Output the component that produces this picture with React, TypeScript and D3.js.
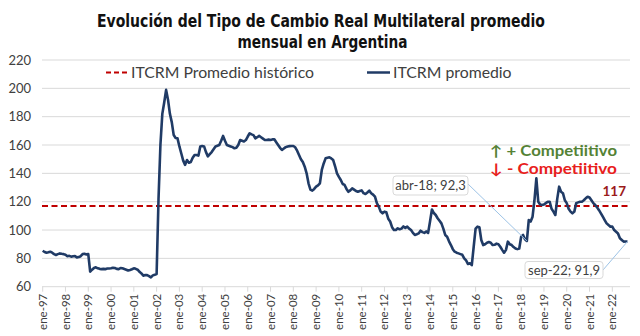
import React from "react";
import * as d3 from "d3";

// ITCRM monthly average values, Jan-1997 .. Sep-2022
const itcrmValues: number[] = [
  // 1997
  85.4, 84.5, 84, 84.3, 84.7, 84, 83, 82.4, 83, 83.5, 83.2, 83,
  // 1998
  82.5, 81.5, 81.8, 81.2, 81.5, 81.6, 80.7, 80.9, 81.5, 83, 83.2, 82.8,
  // 1999
  83, 70.6, 72, 73.2, 73.7, 73, 72.6, 72.4, 72.6, 72.4, 72.8, 72.9,
  // 2000
  73, 73.4, 73.2, 72.6, 72.4, 73.2, 73, 72.5, 72, 71.4, 71.8, 72.3,
  // 2001
  73, 72.6, 72, 70.5, 69.4, 67.8, 68.2, 68.2, 67.5, 66.6, 68, 68.5,
  // 2002
  69, 122, 160, 182, 190, 198.9, 192, 182, 176, 167, 165, 164.7,
  // 2003
  159, 154, 149, 146, 149.4, 147.5, 148, 151, 153, 153, 152.5, 159,
  // 2004
  159.3, 159, 155, 152, 153.5, 155, 157, 159, 159.5, 160, 163, 166.4,
  // 2005
  163, 160, 159.5, 159, 158.5, 157.7, 158, 160, 163.5, 163, 162.5, 163.5,
  // 2006
  166, 168.3, 167.5, 167, 164.7, 165.5, 166.4, 165.5, 164.5, 163.5, 163.5, 163.8,
  // 2007
  163.5, 164, 164, 162, 160, 158, 156.5, 157.5, 158.5, 159, 159.2, 159.3,
  // 2008
  159.3, 158.4, 156, 153, 150, 148, 144.7, 140, 133, 128.5, 127.8, 129,
  // 2009
  130.6, 131.5, 133, 142.4, 147, 150.6, 151, 151.3, 150.5, 149.4, 145, 140,
  // 2010
  137.5, 135.3, 132.5, 131.8, 129, 127, 128, 129.4, 128.5, 127.5, 127, 127.5,
  // 2011
  128, 126, 125.4, 126.5, 127.8, 126, 125, 123.5, 119, 116.5, 113, 111.8,
  // 2012
  113, 112.5, 108, 106, 102, 100, 100, 101.2, 100.5, 101, 102.5, 101.5,
  // 2013
  102.4, 101, 100, 98, 96.5, 97, 97.6, 99.5, 98.5, 98, 99, 98,
  // 2014
  106, 114.5, 112, 110.6, 108.3, 106.5, 104.7, 101, 96.5, 95.3, 92, 89.4,
  // 2015
  86.5, 84.7, 84, 83.5, 83, 82.5, 80, 78.5, 76, 76.5, 75.3, 88.2,
  // 2016
  101, 102.4, 102, 93, 89.4, 90, 91, 91.5, 91, 89.4, 89.6, 90.4,
  // 2017
  90, 88.2, 86, 84, 86, 91.8, 90, 89.4, 88, 87, 86.5, 87,
  // 2018
  95.3, 96.5, 93.5, 92.3, 107, 106, 109.4, 121, 136.5, 120, 118, 117.7,
  // 2019
  118, 119, 120, 120, 115, 113, 110.6, 122, 130.6, 127, 126, 121,
  // 2020
  119, 115, 113, 111.8, 113, 119, 119.5, 120, 120, 121, 122.4, 123.5,
  // 2021
  123, 121, 119, 117.7, 116, 114, 111.8, 109.4, 107, 104.7, 103.5, 102.4,
  // 2022
  102.4, 100, 98.8, 97.6, 94.2, 93, 91.8, 91.9, 91.9,
];

const tickLabels: string[] = [
  "ene-97", "ene-98", "ene-99", "ene-00", "ene-01", "ene-02", "ene-03",
  "ene-04", "ene-05", "ene-06", "ene-07", "ene-08", "ene-09", "ene-10",
  "ene-11", "ene-12", "ene-13", "ene-14", "ene-15", "ene-16", "ene-17",
  "ene-18", "ene-19", "ene-20", "ene-21", "ene-22",
];

const yTicks: number[] = [60, 80, 100, 120, 140, 160, 180, 200, 220];
const historicalAverage = 117;

// annotated points: month index from Jan-97, label
const annotationIndex: number[] = [255, 308];
const annotationLabels: string[] = ["abr-18; 92,3", "sep-22; 91,9"];

const titleLines: string[] = [
  "Evolución del Tipo de Cambio Real Multilateral promedio",
  "mensual en Argentina",
];
const legendLabels: string[] = ["ITCRM Promedio histórico", "ITCRM promedio"];
const noteLabels: string[] = ["↑ + Competiitivo", "↓ -  Competiitivo"];

const NAVY = "#203B66";
const DARKRED = "#C00000";
const FONT = "Lato, 'Open Sans', sans-serif";

export default function App() {
  const x = d3.scaleLinear().domain([0, 300]).range([42.7, 612.3]);
  const y = d3.scaleLinear().domain([60, 220]).range([286.7, 60]);
  const plotLeft = 42;
  const plotRight = 630;

  const line = d3
    .line<number>()
    .x((_, i) => x(i))
    .y((d) => y(d))
    .curve(d3.curveLinear);

  const a1x = x(annotationIndex[0]);
  const a1y = y(itcrmValues[annotationIndex[0]]);
  const a2x = x(annotationIndex[1]);
  const a2y = y(itcrmValues[annotationIndex[1]]);

  return (
    <svg
      width={640}
      height={336}
      style={{ position: "absolute", left: 0, top: 0, background: "#fff" }}
      fontFamily={FONT}
    >
      {/* title */}
      <text
        x={321}
        y={27}
        textAnchor="middle"
        fontFamily="'Liberation Sans Narrow', 'DejaVu Sans Condensed', sans-serif"
        fontWeight="bold"
        fontSize={17.5}
        fill="#111"
        textLength={448}
        lengthAdjust="spacingAndGlyphs"
      >
        {titleLines[0]}
      </text>
      <text
        x={322.5}
        y={48}
        textAnchor="middle"
        fontFamily="'Liberation Sans Narrow', 'DejaVu Sans Condensed', sans-serif"
        fontWeight="bold"
        fontSize={17.5}
        fill="#111"
        textLength={170}
        lengthAdjust="spacingAndGlyphs"
      >
        {titleLines[1]}
      </text>

      {/* gridlines */}
      {yTicks.map((t) => (
        <g key={t}>
          <line
            x1={plotLeft}
            x2={plotRight}
            y1={y(t)}
            y2={y(t)}
            stroke="#D9D9D9"
            strokeWidth={1}
          />
          <text
            x={31}
            y={y(t)}
            dy="0.35em"
            textAnchor="end"
            fontSize={13}
            fill="#404040"
          >
            {t}
          </text>
        </g>
      ))}

      {/* x ticks */}
      {tickLabels.map((lab, i) => {
        const xi = x(i * 12);
        return (
          <g key={lab}>
            <line x1={xi} x2={xi} y1={y(60)} y2={y(60) + 5} stroke="#D9D9D9" />
            <text
              transform={`translate(${xi},${y(60) + 7}) rotate(-90)`}
              textAnchor="end"
              dy="0.35em"
              fontSize={11.5}
              fill="#404040"
            >
              {lab}
            </text>
          </g>
        );
      })}

      {/* legend */}
      <line x1={106} x2={128} y1={72.5} y2={72.5} stroke={DARKRED} strokeWidth={2} strokeDasharray="5,3" />
      <text x={131} y={72.5} dy="0.35em" fontSize={15.8} fill="#404040">
        {legendLabels[0]}
      </text>
      <line x1={367} x2={390} y1={72.5} y2={72.5} stroke={NAVY} strokeWidth={2.5} />
      <text x={393} y={72.5} dy="0.35em" fontSize={15.8} fill="#404040">
        {legendLabels[1]}
      </text>

      {/* historical average */}
      <line
        x1={plotLeft}
        x2={plotRight}
        y1={y(historicalAverage)}
        y2={y(historicalAverage)}
        stroke={DARKRED}
        strokeWidth={2}
        strokeDasharray="6,3.5"
      />

      {/* series */}
      <path d={line(itcrmValues) || ""} fill="none" stroke={NAVY} strokeWidth={2.6} strokeLinejoin="round" />

      {/* 117 label */}
      <text x={626} y={y(historicalAverage) - 10} textAnchor="end" fontSize={13.5} fontWeight="bold" fill="#9B1B1B">
        {historicalAverage}
      </text>

      {/* competitivo notes */}
      <text x={490} y={150.5} dy="0.35em" fontSize={14.5} fontWeight="bold" fill="#548235"
        textLength={127} lengthAdjust="spacingAndGlyphs">
        {noteLabels[0]}
      </text>
      <text x={490} y={168.5} dy="0.35em" fontSize={14.5} fontWeight="bold" fill="#E8201C"
        textLength={127} lengthAdjust="spacingAndGlyphs">
        {noteLabels[1]}
      </text>

      {/* annotation leaders */}
      <line x1={468} y1={184} x2={a1x} y2={a1y} stroke="#9DC3E6" strokeWidth={1} />
      <line x1={603} y1={270} x2={a2x} y2={a2y} stroke="#9DC3E6" strokeWidth={1} />

      {/* annotation boxes */}
      <rect x={393} y={176} width={75} height={19} rx={3} fill="#fff" stroke="#D9D9D9" />
      <text x={430.5} y={185.5} dy="0.35em" textAnchor="middle" fontSize={13} fill="#404040">
        {annotationLabels[0]}
      </text>
      <rect x={525} y={261.5} width={78} height={17} rx={3} fill="#fff" stroke="#D9D9D9" />
      <text x={564} y={270} dy="0.35em" textAnchor="middle" fontSize={13} fill="#404040">
        {annotationLabels[1]}
      </text>
    </svg>
  );
}
